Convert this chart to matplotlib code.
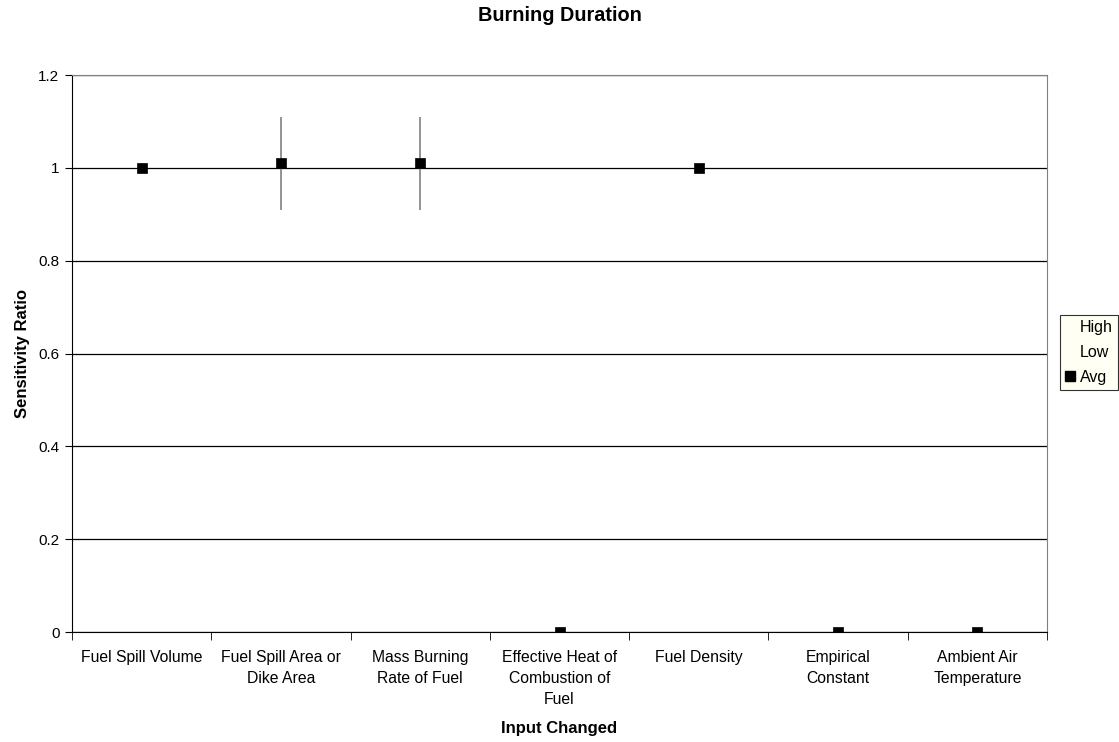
import matplotlib
matplotlib.use("Agg")
import matplotlib.pyplot as plt
from matplotlib.lines import Line2D
import numpy as np

plt.rcParams['font.family'] = ['Liberation Sans', 'DejaVu Sans']

categories = ['Fuel Spill Volume', 'Fuel Spill Area or\nDike Area', 'Mass Burning\nRate of Fuel',
              'Effective Heat of\nCombustion of\nFuel', 'Fuel Density', 'Empirical\nConstant',
              'Ambient Air\nTemperature']
high = [1.0, 1.11, 1.11, 0.0, 1.0, 0.0, 0.0]
low = [1.0, 0.91, 0.91, 0.0, 1.0, 0.0, 0.0]
avg = [1.0, 1.01, 1.01, 0.0, 1.0, 0.0, 0.0]

fig = plt.figure(figsize=[11.19, 7.42], dpi=100)
ax = fig.add_axes([0.0643, 0.1482, 0.8714, 0.7507])

x = np.arange(len(categories))
ax.vlines(x, low, high, colors='#808080', linewidth=1.2, zorder=3)
ax.plot(x, avg, 's', color='black', markersize=6.5, markeredgewidth=0.5, zorder=4)

ax.set_xlim(-0.5, len(categories) - 0.5)
ax.set_ylim(0, 1.2)
ax.set_yticks(np.arange(0, 1.21, 0.2))
ax.set_yticklabels(['0', '0.2', '0.4', '0.6', '0.8', '1', '1.2'], fontsize=11)
ax.set_xticks(x)
ax.set_xticklabels(categories, fontsize=11.3, linespacing=1.5)
ax.tick_params(axis='x', length=0, pad=13)
ax.set_xticks(np.arange(-0.5, len(categories), 1), minor=True)
ax.tick_params(axis='x', which='minor', length=6, direction='out', color='black')
ax.tick_params(axis='y', length=5, direction='out', color='black', pad=4)
ax.grid(axis='y', color='black', linewidth=0.9)
ax.set_axisbelow(True)

for s in ['top', 'right']:
    ax.spines[s].set_color('#808080')
for s in ['left', 'bottom']:
    ax.spines[s].set_color('black')

ax.set_xlabel('Input Changed', fontsize=12, fontweight='bold', labelpad=10)
ax.set_ylabel('Sensitivity Ratio', fontsize=12, fontweight='bold', labelpad=6)
fig.suptitle('Burning Duration', fontsize=14.3, fontweight='bold', y=0.992)

handles = [Line2D([], [], linestyle='none'), Line2D([], [], linestyle='none'),
           Line2D([], [], linestyle='none', marker='s', color='black', markersize=7)]
leg = fig.legend(handles, ['High', 'Low', 'Avg'], loc='center left',
                 bbox_to_anchor=(0.947, 0.525), fontsize=11.5, frameon=True,
                 fancybox=False, handlelength=0.6, handletextpad=0.3,
                 borderpad=0.35, labelspacing=0.6, borderaxespad=0)
leg.get_frame().set_facecolor('#FFFFF0')
leg.get_frame().set_edgecolor('black')
leg.get_frame().set_linewidth(0.8)

fig.savefig('out.png', dpi=100)
